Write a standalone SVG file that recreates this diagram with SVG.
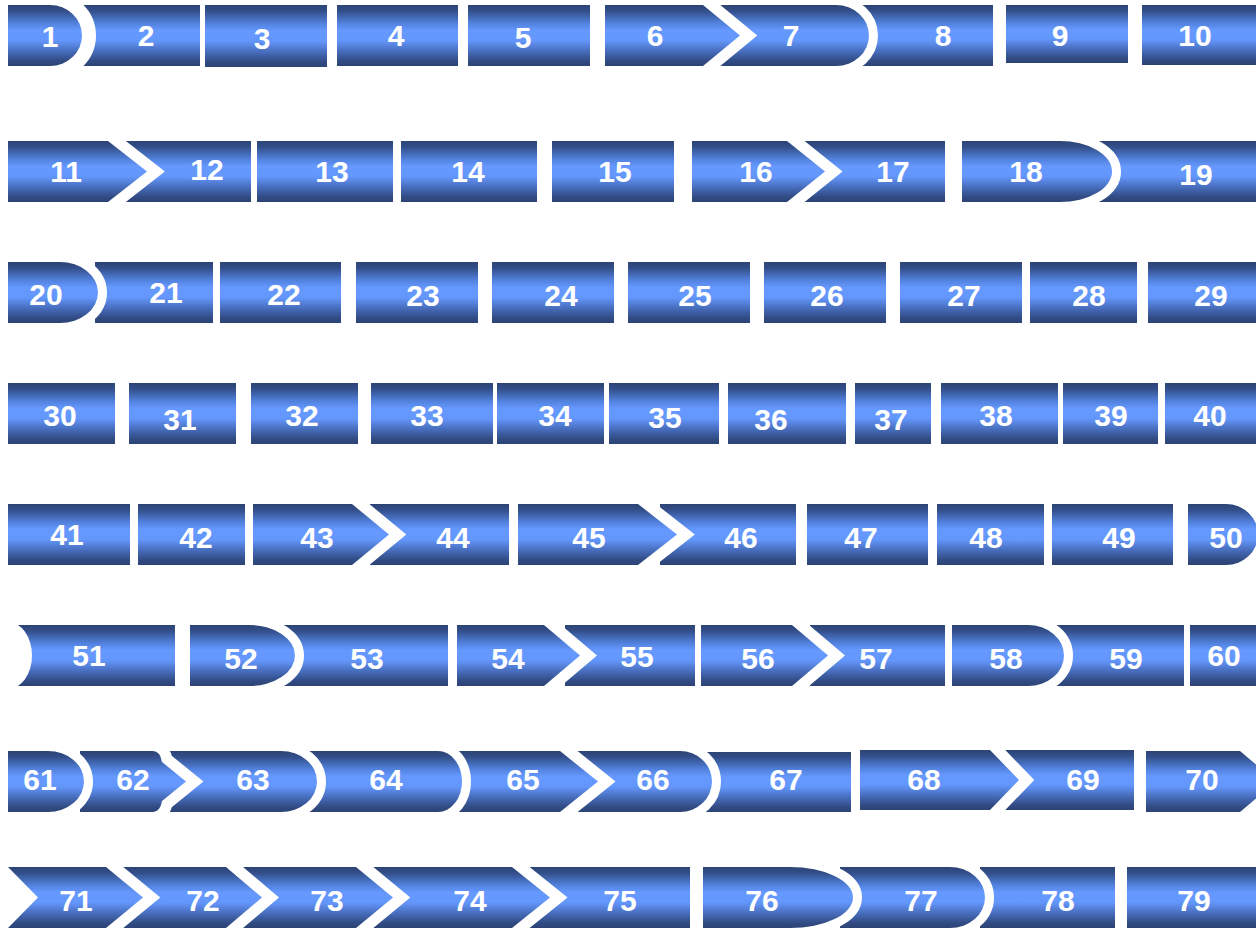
<svg xmlns="http://www.w3.org/2000/svg" width="1256" height="928" viewBox="0 0 1256 928">
<defs>
<linearGradient id="g" x1="0" y1="0" x2="0" y2="1">
<stop offset="0" stop-color="#2c4374"/>
<stop offset="0.1" stop-color="#334f8a"/>
<stop offset="0.3" stop-color="#5282de"/>
<stop offset="0.42" stop-color="#6699ff"/>
<stop offset="0.58" stop-color="#6497fc"/>
<stop offset="0.78" stop-color="#4468b4"/>
<stop offset="0.92" stop-color="#314b83"/>
<stop offset="1" stop-color="#2c4374"/>
</linearGradient>
<style>
.s{fill:url(#g)}
.ch{fill:url(#g);stroke:#fff;stroke-width:22;paint-order:stroke;stroke-linejoin:miter}
.dd{fill:url(#g);stroke:#fff;stroke-width:18;paint-order:stroke;stroke-linejoin:miter}
.t{font-family:"Liberation Sans",Arial,sans-serif;font-weight:bold;font-size:30px;fill:#fff;text-anchor:middle}
</style>
</defs>
<rect width="1256" height="928" fill="#fff"/>
<g id="connectors"/>
<!-- Row 1 -->
<g id="n10"><rect class="s" x="1142" y="5" width="114" height="60"/><text class="t" x="1195" y="46">10</text></g>
<g id="n9"><rect class="s" x="1006" y="5" width="122" height="58"/><text class="t" x="1060" y="46">9</text></g>
<g id="n8"><rect class="s" x="860" y="5" width="133" height="61"/><text class="t" x="943" y="46">8</text></g>
<g id="n7"><path class="dd" d="M715,5 H836 A33,30.5 0 0 1 836,66 H715 Z"/><text class="t" x="791" y="46">7</text></g>
<g id="n6"><path class="ch" d="M605,5 H703 L740,35.5 L703,66 H605 Z"/><text class="t" x="655" y="46">6</text></g>
<g id="n5"><rect class="s" x="468" y="5" width="122" height="61"/><text class="t" x="523" y="48">5</text></g>
<g id="n4"><rect class="s" x="337" y="5" width="121" height="61"/><text class="t" x="396" y="46">4</text></g>
<g id="n3"><rect class="s" x="205" y="5" width="122" height="62"/><text class="t" x="262" y="49">3</text></g>
<g id="n2"><rect class="s" x="80" y="5" width="120" height="61"/><text class="t" x="146" y="46">2</text></g>
<g id="n1"><path class="dd" style="stroke-width:28" d="M8,5 H50 A32,30.5 0 0 1 50,66 H8 Z"/><text class="t" x="50" y="47">1</text></g>
<!-- Row 2 -->
<g id="n19"><rect class="s" x="1090" y="141" width="166" height="61"/><text class="t" x="1196" y="185">19</text></g>
<g id="n18"><path class="dd" d="M962,141 H1060 A52,30.5 0 0 1 1060,202 H962 Z"/><text class="t" x="1026" y="182">18</text></g>
<g id="n17"><rect class="s" x="800" y="141" width="145" height="61"/><text class="t" x="893" y="182">17</text></g>
<g id="n16"><path class="ch" d="M692,141 H787 L825,171.5 L787,202 H692 Z"/><text class="t" x="756" y="182">16</text></g>
<g id="n15"><rect class="s" x="552" y="141" width="122" height="61"/><text class="t" x="615" y="182">15</text></g>
<g id="n14"><rect class="s" x="401" y="141" width="136" height="61"/><text class="t" x="468" y="182">14</text></g>
<g id="n13"><rect class="s" x="257" y="141" width="136" height="61"/><text class="t" x="332" y="182">13</text></g>
<g id="n12"><rect class="s" x="125" y="141" width="126" height="61"/><text class="t" x="207" y="180">12</text></g>
<g id="n11"><path class="ch" d="M8,141 H108 L147,171.5 L108,202 H8 Z"/><text class="t" x="66" y="182">11</text></g>
<!-- Row 3 -->
<g id="n29"><rect class="s" x="1148" y="262" width="108" height="61"/><text class="t" x="1211" y="306">29</text></g>
<g id="n28"><rect class="s" x="1030" y="262" width="107" height="61"/><text class="t" x="1089" y="306">28</text></g>
<g id="n27"><rect class="s" x="900" y="262" width="122" height="61"/><text class="t" x="964" y="306">27</text></g>
<g id="n26"><rect class="s" x="764" y="262" width="122" height="61"/><text class="t" x="827" y="306">26</text></g>
<g id="n25"><rect class="s" x="628" y="262" width="122" height="61"/><text class="t" x="695" y="306">25</text></g>
<g id="n24"><rect class="s" x="492" y="262" width="122" height="61"/><text class="t" x="561" y="306">24</text></g>
<g id="n23"><rect class="s" x="356" y="262" width="122" height="61"/><text class="t" x="423" y="306">23</text></g>
<g id="n22"><rect class="s" x="220" y="262" width="121" height="61"/><text class="t" x="284" y="305">22</text></g>
<g id="n21"><rect class="s" x="95" y="262" width="118" height="61"/><text class="t" x="166" y="303">21</text></g>
<g id="n20"><path class="dd" d="M8,262 H60 A38,30.5 0 0 1 60,323 H8 Z"/><text class="t" x="46" y="305">20</text></g>
<!-- Row 4 -->
<g id="n40"><rect class="s" x="1165" y="383" width="91" height="61"/><text class="t" x="1210" y="426">40</text></g>
<g id="n39"><rect class="s" x="1063" y="383" width="95" height="61"/><text class="t" x="1111" y="426">39</text></g>
<g id="n38"><rect class="s" x="941" y="383" width="117" height="61"/><text class="t" x="996" y="426">38</text></g>
<g id="n37"><rect class="s" x="855" y="383" width="76" height="61"/><text class="t" x="891" y="430">37</text></g>
<g id="n36"><rect class="s" x="728" y="383" width="118" height="61"/><text class="t" x="771" y="430">36</text></g>
<g id="n35"><rect class="s" x="609" y="383" width="110" height="61"/><text class="t" x="665" y="428">35</text></g>
<g id="n34"><rect class="s" x="497" y="383" width="107" height="61"/><text class="t" x="555" y="426">34</text></g>
<g id="n33"><rect class="s" x="371" y="383" width="122" height="61"/><text class="t" x="427" y="426">33</text></g>
<g id="n32"><rect class="s" x="251" y="383" width="107" height="61"/><text class="t" x="302" y="426">32</text></g>
<g id="n31"><rect class="s" x="129" y="383" width="107" height="61"/><text class="t" x="180" y="430">31</text></g>
<g id="n30"><rect class="s" x="8" y="383" width="107" height="61"/><text class="t" x="60" y="426">30</text></g>
<!-- Row 5 -->
<g id="n50"><path class="s" d="M1188,504 H1226 A32,30.5 0 0 1 1226,565 H1188 Z"/><text class="t" x="1226" y="548">50</text></g>
<g id="n49"><rect class="s" x="1052" y="504" width="121" height="61"/><text class="t" x="1119" y="548">49</text></g>
<g id="n48"><rect class="s" x="937" y="504" width="107" height="61"/><text class="t" x="986" y="548">48</text></g>
<g id="n47"><rect class="s" x="807" y="504" width="121" height="61"/><text class="t" x="861" y="548">47</text></g>
<g id="n46"><rect class="s" x="660" y="504" width="136" height="61"/><text class="t" x="741" y="548">46</text></g>
<g id="n45"><path class="ch" d="M518,504 H638 L677,534.5 L638,565 H518 Z"/><text class="t" x="589" y="548">45</text></g>
<g id="n44"><rect class="s" x="370" y="504" width="139" height="61"/><text class="t" x="453" y="548">44</text></g>
<g id="n43"><path class="ch" d="M253,504 H352 L389,534.5 L352,565 H253 Z"/><text class="t" x="317" y="548">43</text></g>
<g id="n42"><rect class="s" x="138" y="504" width="107" height="61"/><text class="t" x="196" y="548">42</text></g>
<g id="n41"><rect class="s" x="8" y="504" width="122" height="61"/><text class="t" x="67" y="545">41</text></g>
<!-- Row 6 -->
<g id="n60"><rect class="s" x="1190" y="625" width="66" height="61"/><text class="t" x="1224" y="666">60</text></g>
<g id="n59"><rect class="s" x="1050" y="625" width="134" height="61"/><text class="t" x="1126" y="669">59</text></g>
<g id="n58"><path class="dd" d="M952,625 H1028 A36,30.5 0 0 1 1028,686 H952 Z"/><text class="t" x="1006" y="669">58</text></g>
<g id="n57"><rect class="s" x="810" y="625" width="135" height="61"/><text class="t" x="876" y="669">57</text></g>
<g id="n56"><path class="ch" d="M701,625 H792 L828,655.5 L792,686 H701 Z"/><text class="t" x="758" y="669">56</text></g>
<g id="n55"><rect class="s" x="565" y="625" width="130" height="61"/><text class="t" x="637" y="667">55</text></g>
<g id="n54"><path class="ch" d="M457,625 H544 L580,655.5 L544,686 H457 Z"/><text class="t" x="508" y="669">54</text></g>
<g id="n53"><rect class="s" x="280" y="625" width="168" height="61"/><text class="t" x="367" y="669">53</text></g>
<g id="n52"><path class="dd" d="M190,625 H249 A46,30.5 0 0 1 249,686 H190 Z"/><text class="t" x="241" y="669">52</text></g>
<g id="n51"><rect class="s" x="8" y="625" width="167" height="61"/><path fill="#fff" d="M0,622 H8 A24,33.5 0 0 1 8,689 H0 Z"/><text class="t" x="89" y="666">51</text></g>
<!-- Row 7 -->
<g id="n70"><path class="s" d="M1146,751 H1240 L1276,781.5 L1240,812 H1146 Z"/><text class="t" x="1202" y="790">70</text></g>
<g id="n69"><rect class="s" x="1000" y="750" width="134" height="60"/><text class="t" x="1083" y="790">69</text></g>
<g id="n68"><path class="ch" d="M860,750 H990 L1019,780 L990,810 H860 Z"/><text class="t" x="924" y="790">68</text></g>
<g id="n67"><rect class="s" x="700" y="752" width="151" height="60"/><text class="t" x="786" y="790">67</text></g>
<g id="n66"><path class="dd" d="M575,751 H680 A32,30.5 0 0 1 680,812 H575 Z"/><text class="t" x="653" y="790">66</text></g>
<g id="n65"><path class="ch" d="M445,751 H560 L598,781.5 L560,812 H445 Z"/><text class="t" x="523" y="790">65</text></g>
<g id="n64"><path class="dd" d="M300,751 H438 A24,30.5 0 0 1 438,812 H300 Z"/><text class="t" x="386" y="790">64</text></g>
<g id="n63"><path class="dd" d="M160,751 H281 A36,30.5 0 0 1 281,812 H160 Z"/><text class="t" x="253" y="790">63</text></g>
<g id="n62"><path class="ch" d="M80,751 H153 Q160,751 162,762 L186,781.5 L162,801 Q160,812 153,812 H80 Z"/><text class="t" x="133" y="790">62</text></g>
<g id="n61"><path class="dd" d="M8,751 H48 A36,30.5 0 0 1 48,812 H8 Z"/><text class="t" x="40" y="790">61</text></g>
<!-- Row 8 -->
<g id="n79"><rect class="s" x="1127" y="867" width="129" height="61"/><text class="t" x="1194" y="911">79</text></g>
<g id="n78"><rect class="s" x="980" y="867" width="135" height="61"/><text class="t" x="1058" y="911">78</text></g>
<g id="n77"><path class="dd" d="M840,867 H950 A35,30.5 0 0 1 950,928 H840 Z"/><text class="t" x="921" y="911">77</text></g>
<g id="n76"><path class="dd" d="M703,867 H790 A63,30.5 0 0 1 790,928 H703 Z"/><text class="t" x="762" y="911">76</text></g>
<g id="n75"><rect class="s" x="520" y="867" width="170" height="61"/><text class="t" x="620" y="911">75</text></g>
<g id="n74"><path class="ch" d="M370,867 H512 L550,897.5 L512,928 H370 Z"/><text class="t" x="470" y="911">74</text></g>
<g id="n73"><path class="ch" d="M240,867 H356 L393,897.5 L356,928 H240 Z"/><text class="t" x="327" y="911">73</text></g>
<g id="n72"><path class="ch" d="M120,867 H226 L262,897.5 L226,928 H120 Z"/><text class="t" x="203" y="911">72</text></g>
<g id="n71"><path class="ch" d="M8,867 H106 L143,897.5 L106,928 H8 L38,897.5 Z"/><text class="t" x="76" y="911">71</text></g>
</svg>
